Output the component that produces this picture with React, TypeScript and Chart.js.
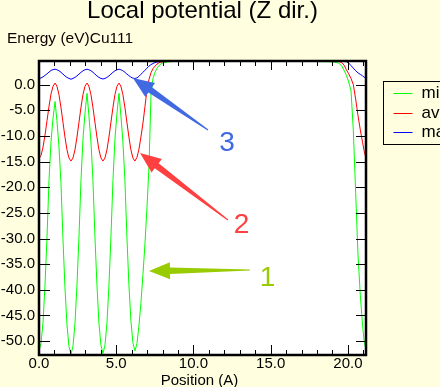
import React, { useEffect, useRef } from "react";
import { Chart, registerables } from "chart.js";

Chart.register(...registerables);

// Position along Z (Angstrom)
const positions = [
  0.0, 0.13, 0.26, 0.39, 0.52, 0.65, 0.78, 0.91, 1.04, 1.16, 1.29, 1.42, 1.55, 1.68, 1.81, 1.94,
  2.07, 2.2, 2.33, 2.46, 2.59, 2.72, 2.85, 2.98, 3.11, 3.23, 3.36, 3.49, 3.62, 3.75, 3.88, 4.01,
  4.14, 4.27, 4.4, 4.53, 4.66, 4.79, 4.92, 5.05, 5.18, 5.3, 5.43, 5.56, 5.69, 5.82, 5.95, 6.08,
  6.21, 6.34, 6.47, 6.6, 6.73, 6.86, 6.99, 7.12, 7.25, 7.38, 7.51, 7.64, 7.77, 7.9, 8.03, 8.3,
  8.6, 9.0, 10.0, 12.0, 14.0, 16.0, 18.0, 19.0, 19.4, 19.6, 19.75, 19.9, 20.05, 20.2, 20.35, 20.5,
  20.65, 20.8, 20.95, 21.05, 21.17,
];

// Energy (eV)
const minValues = [
  -51.8, -50.5, -46.3, -39.0, -29.5, -18.5, -11.0, -6.5, -3.3, -7.0, -12.0, -19.0, -30.0, -39.5, -46.8, -51.0,
  -52.6, -51.0, -46.5, -39.0, -29.5, -18.5, -10.5, -5.5, -1.7, -6.0, -11.0, -18.5, -29.5, -39.0, -46.5, -50.8,
  -52.4, -50.8, -46.5, -39.0, -29.5, -18.5, -10.5, -5.5, -1.7, -6.0, -11.0, -18.5, -29.5, -39.0, -46.0, -50.3,
  -51.9, -50.5, -47.0, -42.5, -37.0, -31.0, -24.0, -16.0, -2.0, 1.2, 2.4, 3.2, 3.7, 4.05, 4.25, 4.4,
  4.5, 4.5, 4.5, 4.5, 4.5, 4.5, 4.5, 4.45, 4.2, 3.6, 2.8, 1.8, 0.5, -1.2, -9.0, -21.0,
  -33.0, -41.0, -47.0, -50.0, -51.8,
];

const aveValues = [
  -14.4, -13.8, -12.2, -9.8, -7.0, -4.2, -1.8, -0.3, 0.3, -0.3, -1.9, -4.4, -7.3, -10.2, -12.7, -14.3,
  -14.9, -14.3, -12.7, -10.2, -7.3, -4.4, -1.9, -0.3, 0.3, -0.3, -1.9, -4.4, -7.3, -10.2, -12.7, -14.3,
  -14.9, -14.3, -12.7, -10.2, -7.3, -4.4, -1.9, -0.3, 0.3, -0.3, -1.9, -4.4, -7.3, -10.2, -12.7, -14.3,
  -14.9, -14.2, -12.6, -10.2, -7.5, -4.3, -1.0, 1.0, 2.3, 3.1, 3.6, 4.0, 4.25, 4.4, 4.45, 4.5,
  4.5, 4.5, 4.5, 4.5, 4.5, 4.5, 4.5, 4.5, 4.5, 4.3, 3.8, 2.9, 2.1, 1.2, 0.0, -2.8,
  -6.0, -8.8, -11.3, -12.9, -14.4,
];

const maxValues = [
  1.2, 1.3, 1.5, 1.8, 2.1, 2.45, 2.75, 2.92, 3.0, 2.9, 2.7, 2.4, 2.05, 1.7, 1.4, 1.2,
  1.05, 1.2, 1.4, 1.7, 2.05, 2.4, 2.7, 2.9, 3.0, 2.9, 2.7, 2.4, 2.05, 1.7, 1.4, 1.2,
  1.1, 1.2, 1.4, 1.7, 2.05, 2.4, 2.7, 2.9, 3.0, 2.9, 2.7, 2.4, 2.05, 1.75, 1.45, 1.25,
  1.2, 1.3, 1.6, 2.0, 2.4, 2.8, 3.2, 3.6, 3.9, 4.1, 4.3, 4.4, 4.45, 4.5, 4.5, 4.5,
  4.5, 4.5, 4.5, 4.5, 4.5, 4.5, 4.5, 4.5, 4.5, 4.5, 4.5, 4.45, 4.2, 3.7, 3.2, 2.7,
  2.3, 2.0, 1.7, 1.45, 1.2,
];

const seriesLabels = ["min", "ave", "max"];
const seriesColors = ["#00ff00", "#ff0000", "#0000ff"];

const yTickValues = [0, -5, -10, -15, -20, -25, -30, -35, -40, -45, -50];
const xMajorTicks = [0, 5, 10, 15, 20];
const xMinorTicks = [1, 2, 3, 4, 6, 7, 8, 9, 11, 12, 13, 14, 16, 17, 18, 19, 21];

const chartTitle = "Local potential (Z dir.)";
const yAxisTitle = "Energy (eV)Cu111";
const xAxisTitle = "Position (A)";

// Annotation arrows (data coordinates): tail -> tip, with number label
const arrowLabels = ["3", "2", "1"];
const arrowColors = ["#4169e1", "#ff4040", "#99cc00"];
const arrowTailX = [10.94, 12.23, 13.66];
const arrowTailY = [-8.85, -26.39, -36.13];
const arrowTipX = [6.08, 6.54, 7.12];
const arrowTipY = [1.29, -13.33, -36.33];
const labelX = [12.17, 13.11, 14.8];
const labelY = [-12.88, -28.98, -39.25];

const FONT = "'Liberation Sans', Arial, sans-serif";

function drawArrow(ctx: CanvasRenderingContext2D, tx: number, ty: number, hx: number, hy: number,
  headLen: number, headHalf: number, shaftHalf: number, tailHalf: number) {
  const dx = hx - tx, dy = hy - ty;
  const L = Math.hypot(dx, dy);
  const ux = dx / L, uy = dy / L;
  const nx = -uy, ny = ux;
  const bx = hx - ux * headLen, by = hy - uy * headLen;
  ctx.beginPath();
  ctx.moveTo(tx + nx * tailHalf, ty + ny * tailHalf);
  ctx.lineTo(bx + nx * shaftHalf, by + ny * shaftHalf);
  ctx.lineTo(bx + nx * headHalf, by + ny * headHalf);
  ctx.lineTo(hx, hy);
  ctx.lineTo(bx - nx * headHalf, by - ny * headHalf);
  ctx.lineTo(bx - nx * shaftHalf, by - ny * shaftHalf);
  ctx.lineTo(tx - nx * tailHalf, ty - ny * tailHalf);
  ctx.closePath();
  ctx.fill();
}

const decorPlugin = {
  id: "decor",
  beforeDraw(chart: any) {
    const { ctx, chartArea: a, width, height } = chart;
    ctx.save();
    ctx.fillStyle = "#ffffe0";
    ctx.fillRect(0, 0, width, height);
    ctx.fillStyle = "#ffffff";
    ctx.fillRect(a.left, a.top, a.right - a.left, a.bottom - a.top);
    ctx.restore();
  },
  afterDatasetsDraw(chart: any) {
    const { ctx, chartArea: a } = chart;
    const xs = chart.scales.x;
    const ys = chart.scales.y;
    ctx.save();
    ctx.strokeStyle = "#000";
    ctx.lineWidth = 1;
    ctx.beginPath();
    for (const v of yTickValues) {
      const py = Math.round(ys.getPixelForValue(v)) + 0.5;
      ctx.moveTo(a.left, py); ctx.lineTo(a.left + 11, py);
      ctx.moveTo(a.right - 10, py); ctx.lineTo(a.right, py);
    }
    for (const v of xMajorTicks) {
      const px = Math.round(xs.getPixelForValue(v)) + 0.5;
      ctx.moveTo(px, a.bottom); ctx.lineTo(px, a.bottom - 10);
      ctx.moveTo(px, a.top); ctx.lineTo(px, a.top + 9);
    }
    for (const v of xMinorTicks) {
      const px = Math.round(xs.getPixelForValue(v)) + 0.5;
      ctx.moveTo(px, a.bottom); ctx.lineTo(px, a.bottom - 5);
      ctx.moveTo(px, a.top); ctx.lineTo(px, a.top + 5);
    }
    ctx.stroke();
    // frame
    ctx.lineWidth = 2.5;
    ctx.strokeRect(a.left, a.top, a.right - a.left, a.bottom - a.top);

    // titles
    ctx.fillStyle = "#000";
    ctx.font = `24px ${FONT}`;
    ctx.textAlign = "center";
    ctx.textBaseline = "alphabetic";
    ctx.fillText(chartTitle, (a.left + a.right) / 2, 17.5);
    ctx.font = `15px ${FONT}`;
    ctx.fillText(xAxisTitle, (a.left + a.right) / 2 - 3, 385);
    ctx.font = `15.5px ${FONT}`;
    ctx.textAlign = "left";
    ctx.fillStyle = "#100000";
    ctx.fillText(yAxisTitle, 7, 42.7);

    // legend
    const lx = a.right + 17.5;
    const ly = 81.5;
    ctx.fillStyle = "#ffffe0";
    ctx.fillRect(lx, ly, 80, 63);
    ctx.strokeStyle = "#000";
    ctx.lineWidth = 1;
    ctx.strokeRect(lx, ly, 80, 63);
    ctx.font = `17px ${FONT}`;
    ctx.textAlign = "left";
    ctx.textBaseline = "alphabetic";
    seriesLabels.forEach((lab, i) => {
      const y = 93 + i * 19.5;
      ctx.strokeStyle = seriesColors[i];
      ctx.beginPath();
      ctx.moveTo(lx + 10, Math.round(y) + 0.5);
      ctx.lineTo(lx + 29, Math.round(y) + 0.5);
      ctx.stroke();
      ctx.fillStyle = "#000";
      ctx.fillText(lab, lx + 38, y + 5);
    });

    // annotations
    arrowLabels.forEach((lab, i) => {
      const tx = xs.getPixelForValue(arrowTailX[i]);
      const ty = ys.getPixelForValue(arrowTailY[i]);
      const hx = xs.getPixelForValue(arrowTipX[i]);
      const hy = ys.getPixelForValue(arrowTipY[i]);
      ctx.fillStyle = arrowColors[i];
      drawArrow(ctx, tx, ty, hx, hy, 21, 8.5, 3.2, 0.6);
      ctx.font = `28px ${FONT}`;
      ctx.textAlign = "center";
      ctx.textBaseline = "alphabetic";
      ctx.fillText(lab, xs.getPixelForValue(labelX[i]), ys.getPixelForValue(labelY[i]));
    });
    ctx.restore();
  },
};

export default function App() {
  const ref = useRef<HTMLCanvasElement>(null);
  useEffect(() => {
    document.body.style.margin = "0";
    const series = [minValues, aveValues, maxValues];
    const chart = new Chart(ref.current!, {
      type: "line",
      data: {
        datasets: series.map((vals, i) => ({
          label: seriesLabels[i],
          data: positions.map((x, j) => ({ x, y: vals[j] })),
          borderColor: seriesColors[i],
          backgroundColor: seriesColors[i],
          borderWidth: 1,
          pointRadius: 0,
          tension: 0,
          fill: false,
          order: 2 - i,
        })),
      },
      options: {
        animation: false,
        responsive: false,
        devicePixelRatio: 1,
        layout: { padding: { left: 0, right: 74, top: 61, bottom: 0 } },
        plugins: {
          legend: { display: false },
          tooltip: { enabled: false },
          title: { display: false },
        },
        scales: {
          x: {
            type: "linear",
            min: 0,
            max: 21.17,
            afterFit: (s: any) => { s.height = 32; },
            grid: { display: false, drawTicks: false },
            border: { display: false },
            ticks: {
              stepSize: 5,
              includeBounds: false,
              autoSkip: false,
              maxRotation: 0,
              padding: 0,
              color: "#000",
              font: { family: FONT, size: 15 },
              callback: (v: any) => Number(v).toFixed(1),
            },
          },
          y: {
            type: "linear",
            min: -52.7,
            max: 4.6,
            afterFit: (s: any) => { s.width = 39; },
            grid: { display: false, drawTicks: false },
            border: { display: false },
            ticks: {
              stepSize: 5,
              includeBounds: false,
              autoSkip: false,
              padding: 4,
              color: "#000",
              font: { family: FONT, size: 15 },
              callback: (v: any) => Number(v).toFixed(1),
            },
          },
        },
      },
      plugins: [decorPlugin],
    } as any);
    return () => chart.destroy();
  }, []);
  return (
    <div style={{ position: "absolute", left: 0, top: 0, width: 440, height: 387, background: "#ffffe0" }}>
      <canvas ref={ref} width={440} height={387} style={{ display: "block", width: 440, height: 387 }} />
    </div>
  );
}
